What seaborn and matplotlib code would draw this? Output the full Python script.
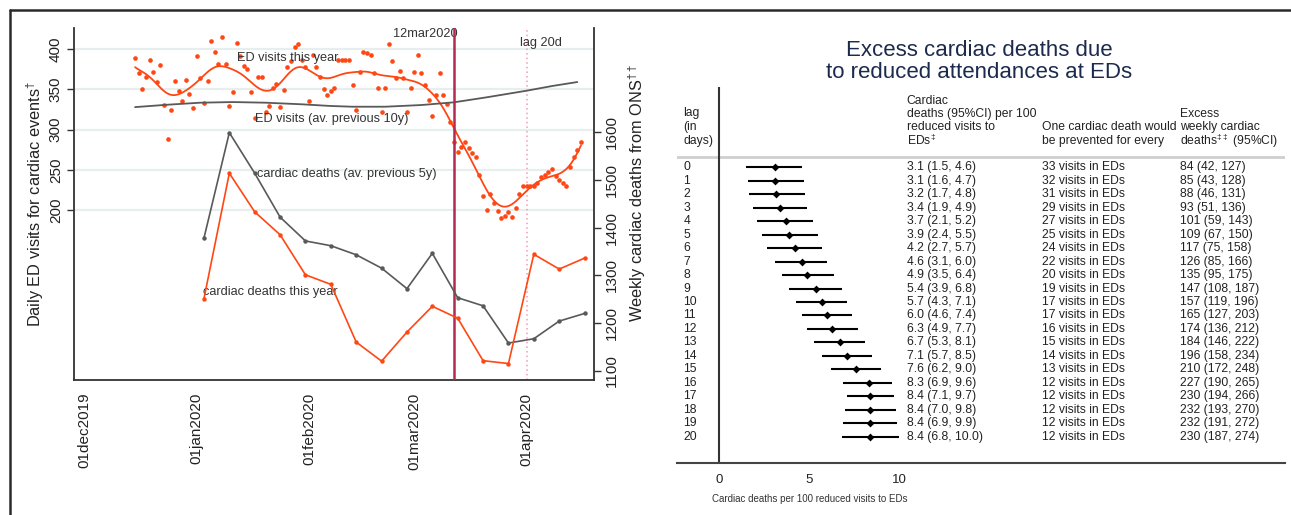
import numpy as np
import pandas as pd
import matplotlib
matplotlib.use("Agg")
import matplotlib.pyplot as plt
import matplotlib.dates as mdates
from matplotlib.lines import Line2D
import seaborn as sns

# ---------------- data ----------------
ed_start = "2019-12-15"
ed_daily = [389, 371, 350, 366, 386, 372, 359, 381, 331, 288,
            324, 360, 348, 336, 362, 344, 327, 391, 364, 333,
            361, 410, 396, 382, 415, 382, 329, 347, 408, 391,
            379, 376, 347, 315, 365, 366, 322, 330, 352, 357,
            328, 349, 378, 385, 403, 407, 386, 378, 336, 393,
            378, 365, 351, 343, 348, 352, 386, 386, 386, 386,
            356, 325, 372, 397, 395, 393, 371, 352, 322, 352,
            406, 385, 364, 373, 364, 322, 352, 372, 393, 371,
            356, 337, 317, 343, 371, 343, 332, 309, 285, 272,
            279, 284, 277, 271, 266, 243, 217, 200, 220, 209,
            199, 190, 193, 197, 191, 202, 220, 230, 230, 230,
            230, 234, 241, 244, 247, 251, 242, 237, 234, 230,
            253, 266, 275, 284]

ed10_dates = ["2019-12-15", "2019-12-24", "2020-01-02", "2020-01-11", "2020-01-20",
              "2020-01-30", "2020-02-07", "2020-02-13", "2020-02-22", "2020-03-03",
              "2020-03-12", "2020-03-21", "2020-04-01", "2020-04-08", "2020-04-15"]
ed10_values = [328, 331, 333.5, 334.3, 333.5, 331.5, 329.4, 328.5, 328.5, 330.6,
               334, 340.2, 348.4, 354.2, 359.2]

week_start = "2020-01-03"
deaths_prev5y = [1378, 1599, 1514, 1422, 1372, 1362, 1343, 1315, 1272, 1346,
                 1253, 1236, 1158, 1167, 1204, 1220]
deaths_this_year = [1251, 1514, 1433, 1385, 1301, 1281, 1160, 1120, 1181, 1235,
                    1210, 1121, 1115, 1344, 1313, 1336]

x_tick_dates = ["2019-12-01", "2020-01-01", "2020-02-01", "2020-03-01", "2020-04-01"]
x_tick_labels = ["01dec2019", "01jan2020", "01feb2020", "01mar2020", "01apr2020"]
left_ticks = [200, 250, 300, 350, 400]
right_ticks = [1100, 1200, 1300, 1400, 1500, 1600]

lags = list(range(21))
est = [3.1, 3.1, 3.2, 3.4, 3.7, 3.9, 4.2, 4.6, 4.9, 5.4, 5.7, 6.0, 6.3, 6.7, 7.1,
       7.6, 8.3, 8.4, 8.4, 8.4, 8.4]
est_lo = [1.5, 1.6, 1.7, 1.9, 2.1, 2.4, 2.7, 3.1, 3.5, 3.9, 4.3, 4.6, 4.9, 5.3, 5.7,
          6.2, 6.9, 7.1, 7.0, 6.9, 6.8]
est_hi = [4.6, 4.7, 4.8, 4.9, 5.2, 5.5, 5.7, 6.0, 6.4, 6.8, 7.1, 7.4, 7.7, 8.1, 8.5,
          9.0, 9.6, 9.7, 9.8, 9.9, 10.0]
visits = [33, 32, 31, 29, 27, 25, 24, 22, 20, 19, 17, 17, 16, 15, 14, 13, 12, 12, 12, 12, 12]
excess = [84, 85, 88, 93, 101, 109, 117, 126, 135, 147, 157, 165, 174, 184, 196, 210,
          227, 230, 232, 232, 230]
excess_lo = [42, 43, 46, 51, 59, 67, 75, 85, 95, 108, 119, 127, 136, 146, 158, 172,
             190, 194, 193, 191, 187]
excess_hi = [127, 128, 131, 136, 143, 150, 158, 166, 175, 187, 196, 203, 212, 222, 234,
             248, 265, 266, 270, 272, 274]
forest_ticks = [0, 5, 10]

# ---------------- style ----------------
sns.set_theme(style="white")
plt.rcParams["font.family"] = ["Liberation Sans", "DejaVu Sans"]
plt.rcParams["mathtext.fontset"] = "custom"
plt.rcParams["mathtext.rm"] = "Liberation Sans"
plt.rcParams["mathtext.it"] = "Liberation Sans"

ORANGE = "#ff4713"
GREY = "#595959"
DARK = "#333333"
W, H = 1291, 515

fig = plt.figure(figsize=(W / 100, H / 100), dpi=100)
fig.patch.set_facecolor("white")

# ---------------- left chart ----------------
ed_df = pd.DataFrame({
    "date": pd.date_range(ed_start, periods=len(ed_daily), freq="D"),
    "visits": ed_daily,
})
ed_df["t"] = mdates.date2num(ed_df["date"])

# local-linear (gaussian kernel) smoother of the daily counts
def local_linear(x, y, grid, h):
    out = []
    for g in grid:
        w = np.exp(-0.5 * ((x - g) / h) ** 2)
        X = np.column_stack([np.ones_like(x), x - g])
        A = X.T @ (w[:, None] * X)
        b = X.T @ (w * y)
        out.append(np.linalg.solve(A, b)[0])
    return np.array(out)

tx = ed_df["t"].to_numpy(dtype=float)
grid = np.linspace(tx.min(), tx.max(), 400)
smooth_df = pd.DataFrame({"t": grid,
                          "v": local_linear(tx, ed_df["visits"].to_numpy(float), grid, 3.3)})

ed10_df = pd.DataFrame({"t": mdates.date2num(pd.to_datetime(ed10_dates)), "v": ed10_values})
wk = mdates.date2num(pd.date_range(week_start, periods=len(deaths_prev5y), freq="7D"))
wk_df = pd.DataFrame({"t": wk, "prev": deaths_prev5y, "this": deaths_this_year})

ax = fig.add_axes([74 / W, 1 - 380 / H, 520 / W, 352 / H])
ax.set_facecolor("white")
for y in left_ticks:
    ax.axhline(y, color="#e6eef0", lw=1.6, zorder=0)

sns.scatterplot(data=ed_df, x="t", y="visits", ax=ax, color=ORANGE, s=11,
                linewidth=0, zorder=3)
sns.lineplot(data=smooth_df, x="t", y="v", ax=ax, color=ORANGE, lw=1.3, zorder=3)
sns.lineplot(data=ed10_df, x="t", y="v", ax=ax, color=GREY, lw=1.3, zorder=3)

d0 = mdates.date2num(pd.Timestamp("2019-12-01"))
ax.set_xlim(d0 - 2.85, d0 + 140.6)
ax.set_ylim(-11.4, 426.4)
ax.set_yticks(left_ticks)
ax.set_yticklabels([str(v) for v in left_ticks])
ax.set_xticks(mdates.date2num(pd.to_datetime(x_tick_dates)))
ax.set_xticklabels(x_tick_labels)
ax.set_xlabel("")
ax.set_ylabel("Daily ED visits for cardiac events$^{\\dagger}$", fontsize=11.8,
              color="#222222", labelpad=2)
ax.tick_params(axis="both", which="major", direction="out", length=5, width=1,
               color=DARK, labelsize=11, labelcolor="#222222", pad=3)
ax.tick_params(axis="x", labelrotation=90, length=6)
for lab in ax.get_yticklabels():
    lab.set_rotation(90)
    lab.set_va("center")
for side in ["top", "right"]:
    ax.spines[side].set_visible(False)
for side in ["left", "bottom"]:
    ax.spines[side].set_color(DARK)
    ax.spines[side].set_linewidth(1.3)

mar12 = mdates.date2num(pd.Timestamp("2020-03-12"))
apr01 = mdates.date2num(pd.Timestamp("2020-04-01"))
ax.axvline(mar12, color="#b22a50", lw=1.8, zorder=4)
ax.axvline(apr01, color="#f29ab8", lw=1.1, ls=(0, (1, 2)), zorder=2)

ax2 = ax.twinx()
sns.lineplot(data=wk_df, x="t", y="prev", ax=ax2, color=GREY, lw=1.2,
             marker="o", markersize=3.2, markeredgewidth=0, zorder=3)
sns.lineplot(data=wk_df, x="t", y="this", ax=ax2, color=ORANGE, lw=1.2,
             marker="o", markersize=3.2, markeredgewidth=0, zorder=3)
ax2.set_ylim(1080.5, 1818.4)
ax2.set_yticks(right_ticks)
ax2.set_yticklabels([str(v) for v in right_ticks])
ax2.set_ylabel("Weekly cardiac deaths from ONS$^{\\dagger\\dagger}$", fontsize=11.8,
               color="#222222", labelpad=2, rotation=90)
ax2.yaxis.set_label_coords(1.0 + 32 / 520, 0.53)
ax2.tick_params(axis="y", direction="out", length=5, width=1, color=DARK,
                labelsize=11, labelcolor="#222222", pad=3)
for lab in ax2.get_yticklabels():
    lab.set_rotation(90)
    lab.set_va("center")
for side in ["top", "left", "bottom"]:
    ax2.spines[side].set_visible(False)
ax2.spines["right"].set_color(DARK)
ax2.spines["right"].set_linewidth(1.3)
ax2.set_xlim(d0 - 2.85, d0 + 140.6)

# labels on the left chart
ax.annotate("12mar2020", xy=(mar12, 1.0), xycoords=("data", "axes fraction"),
            xytext=(-20.5, -4.5), textcoords="offset points", ha="center", va="center",
            fontsize=9.2, color=DARK)
ax.annotate("lag 20d", xy=(apr01, 1.0), xycoords=("data", "axes fraction"),
            xytext=(10, -11), textcoords="offset points", ha="center", va="center",
            fontsize=9.2, color=DARK)
txt_kw = dict(fontsize=9.2, color=DARK, ha="left", va="center", zorder=6)
ax.text(d0 + 42.2, 388.7, "ED visits this year", **txt_kw)
ax.text(d0 + 47.1, 313.2, "ED visits (av. previous 10y)", **txt_kw)
ax.text(d0 + 47.7, 244.8, "cardiac deaths (av. previous 5y)", **txt_kw)
ax.text(d0 + 32.7, 98.4, "cardiac deaths this year", **txt_kw)

# ---------------- forest plot ----------------
def fx(px):
    return (px - 718.7) / 18.06

axf = fig.add_axes([677 / W, 1 - 463 / H, 608 / W, 376 / H])
axf.set_facecolor("none")
axf.set_xlim(fx(677), fx(1285))
axf.set_ylim(21.95, -5.96)
axf.hlines(lags, est_lo, est_hi, color="black", lw=1.5, zorder=3)
sns.scatterplot(x=est, y=lags, ax=axf, marker="D", color="black", s=16,
                linewidth=0, zorder=4)
axf.axvline(0, color=DARK, lw=1.5, zorder=2)
axf.axhline(-0.74, color="#cfcfcf", lw=2, zorder=1)
for side in ["top", "right", "left"]:
    axf.spines[side].set_visible(False)
axf.spines["bottom"].set_color("#444444")
axf.spines["bottom"].set_linewidth(1.5)
axf.set_yticks([])
axf.set_xticks(forest_ticks)
axf.set_xticklabels([str(v) for v in forest_ticks])
axf.tick_params(axis="x", direction="out", length=4, width=1, color=DARK,
                labelsize=9.5, labelcolor="#222222", pad=4)

fkw = dict(fontsize=8.7, color="#222222", ha="left", va="center")
for i in lags:
    axf.text(fx(683.3), i, str(i), **fkw)
    axf.text(fx(906.7), i, f"{est[i]:.1f} ({est_lo[i]:.1f}, {est_hi[i]:.1f})", **fkw)
    axf.text(fx(1041.7), i, f"{visits[i]} visits in EDs", **fkw)
    axf.text(fx(1180), i, f"{excess[i]} ({excess_lo[i]}, {excess_hi[i]})", **fkw)

for yy, s in zip([-4.0, -2.97, -1.95], ["lag", "(in", "days)"]):
    axf.text(fx(683.3), yy, s, **fkw)
for yy, s in zip([-4.94, -3.96, -2.97, -1.98],
                 ["Cardiac", "deaths (95%CI) per 100", "reduced visits to", "EDs$^{\\ddagger}$"]):
    axf.text(fx(906.7), yy, s, **fkw)
for yy, s in zip([-2.97, -1.98], ["One cardiac death would", "be prevented for every"]):
    axf.text(fx(1041.7), yy, s, **fkw)
for yy, s in zip([-3.96, -2.97, -1.98],
                 ["Excess", "weekly cardiac", "deaths$^{\\ddagger\\ddagger}$ (95%CI)"]):
    axf.text(fx(1180), yy, s, **fkw)

fig.text(810 / W, 1 - 499 / H, "Cardiac deaths per 100 reduced visits to EDs",
         ha="center", va="center", fontsize=7, color="#333333")

fig.text(979 / W, 1 - 50 / H, "Excess cardiac deaths due", ha="center", va="center",
         fontsize=16, color="#1c2a4e")
fig.text(979 / W, 1 - 73 / H, "to reduced attendances at EDs", ha="center", va="center",
         fontsize=16, color="#1c2a4e")

# outer frame (top and left)
fig.add_artist(Line2D([10 / W, 1.0], [1 - 10 / H, 1 - 10 / H], transform=fig.transFigure,
                      color="#2a2a2a", lw=1.8))
fig.add_artist(Line2D([10 / W, 10 / W], [0.0, 1 - 10 / H], transform=fig.transFigure,
                      color="#2a2a2a", lw=1.8))

fig.savefig("out.png", dpi=100, facecolor="white")
